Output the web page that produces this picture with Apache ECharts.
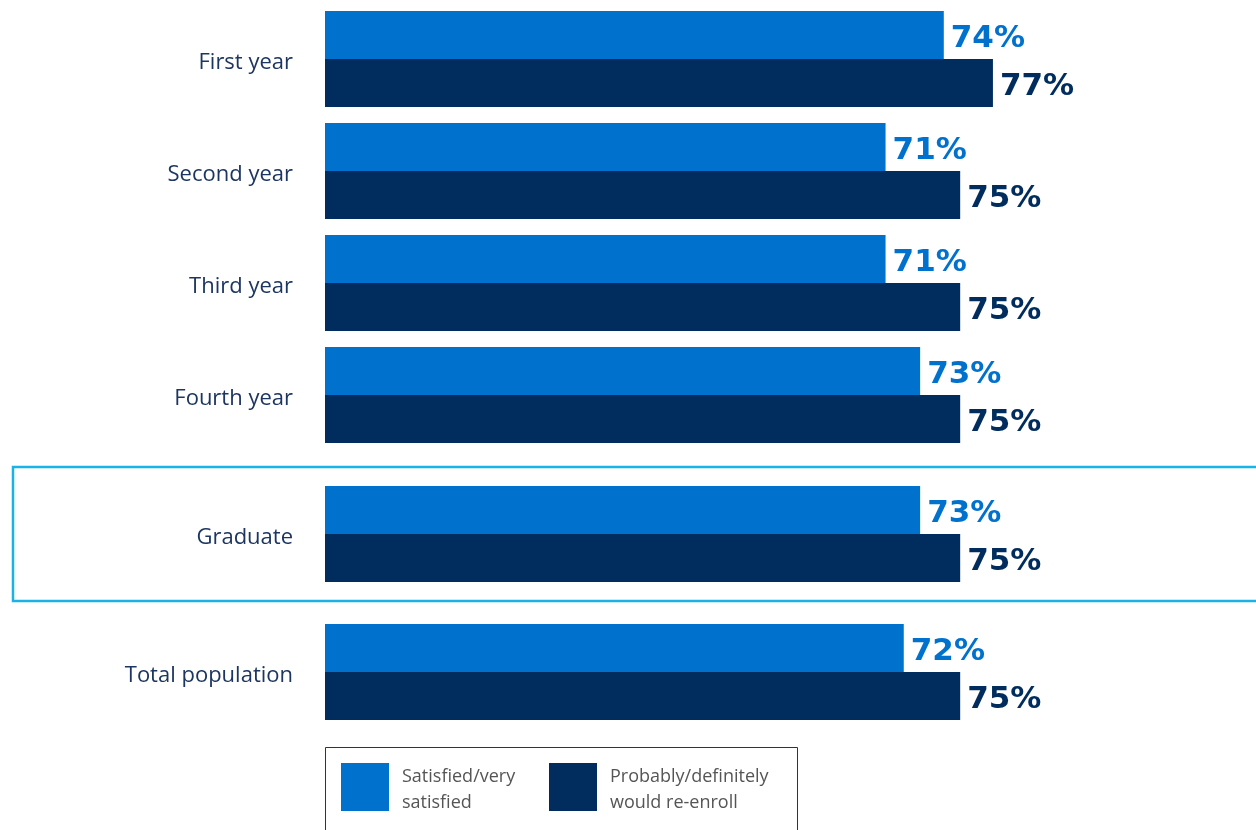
<!DOCTYPE html>
<html>
<head>
<meta charset="utf-8">
<script src="https://cdn.jsdelivr.net/npm/echarts@6/dist/echarts.min.js"></script>
<style>html,body{margin:0;padding:0;background:#fff;}#c{width:1256px;height:830px;}</style>
</head>
<body>
<div id="c"></div>
<script>
// Categories per group
const yearCategories = ["First year", "Second year", "Third year", "Fourth year"];
const gradCategories = ["Graduate"];
const totalCategories = ["Total population"];
// Series names
const seriesNames = ["Satisfied/very satisfied", "Probably/definitely would re-enroll"];
// Values (percent)
const yearSatisfied = [74.0, 70.8, 70.8, 72.7];
const yearReenroll = [76.7, 74.9, 74.9, 74.9];
const gradSatisfied = [72.7];
const gradReenroll = [74.9];
const totalSatisfied = [71.8];
const totalReenroll = [74.9];

const colors = ["#0072ce", "#002d5d"];
const labelFont = "DejaVu Sans";
const catColor = "#1d3661";

const chart = echarts.init(document.getElementById('c'), null, {renderer: 'canvas'});

const groups = [
  {cats: yearCategories, s: yearSatisfied, r: yearReenroll, top: 3, height: 448},
  {cats: gradCategories, s: gradSatisfied, r: gradReenroll, top: 478, height: 112},
  {cats: totalCategories, s: totalSatisfied, r: totalReenroll, top: 616, height: 112}
];

const grid = [], xAxis = [], yAxis = [], series = [];
groups.forEach((g, i) => {
  grid.push({left: 325, top: g.top, width: 910, height: g.height});
  xAxis.push({gridIndex: i, type: 'value', min: 40, max: 90, show: false});
  yAxis.push({
    gridIndex: i, type: 'category', data: g.cats, inverse: true,
    axisLine: {show: false}, axisTick: {show: false}, splitLine: {show: false},
    axisLabel: {
      margin: 32, formatter: v => '{a|' + v + '}',
      rich: {a: {color: catColor, fontSize: 22, fontFamily: 'Open Sans', padding: [8, 0, 0, 0]}}
    }
  });
  [g.s, g.r].forEach((vals, k) => {
    series.push({
      name: seriesNames[k], type: 'bar', xAxisIndex: i, yAxisIndex: i,
      data: vals, barGap: '0%', barCategoryGap: '14.3%',
      itemStyle: {color: colors[k]},
      label: {
        show: true, position: 'right', distance: 7, offset: [0, 4],
        formatter: p => Math.round(p.value) + '%',
        color: colors[k], fontSize: 31, fontWeight: 'bold', fontFamily: labelFont
      },
      silent: true
    });
  });
});

const legendLines = {
  "Satisfied/very satisfied": ["Satisfied/very", "satisfied"],
  "Probably/definitely would re-enroll": ["Probably/definitely", "would re-enroll"]
};
const legendText = {color: '#555', fontSize: 18, fontFamily: 'Open Sans'};
const legendBase = {
  orient: 'horizontal', top: 763, itemWidth: 48, itemHeight: 48, padding: 0,
  icon: 'rect', selectedMode: false,
  formatter: n => '{a|' + legendLines[n][0] + '}\n{b|' + legendLines[n][1] + '}',
  textStyle: {
    color: '#555', fontSize: 18, fontFamily: 'Open Sans', padding: [0, 0, 0, 8],
    rich: {
      a: Object.assign({}, legendText, {lineHeight: 32, verticalAlign: 'bottom'}),
      b: Object.assign({}, legendText, {lineHeight: 34})
    }
  }
};

chart.setOption({
  animation: false,
  backgroundColor: '#fff',
  grid, xAxis, yAxis, series,
  legend: [
    Object.assign({}, legendBase, {left: 341, data: [seriesNames[0]]}),
    Object.assign({}, legendBase, {left: 549, data: [seriesNames[1]]})
  ],
  graphic: [
    {type: 'rect', shape: {x: 13, y: 467, width: 1260, height: 134},
     style: {fill: 'none', stroke: '#1ab2e8', lineWidth: 2.5}, silent: true, z: 0},
    {type: 'rect', shape: {x: 325.5, y: 747.5, width: 472, height: 120},
     style: {fill: 'none', stroke: '#1d3661', lineWidth: 1}, silent: true, z: 0}
  ]
});
</script>
</body>
</html>
